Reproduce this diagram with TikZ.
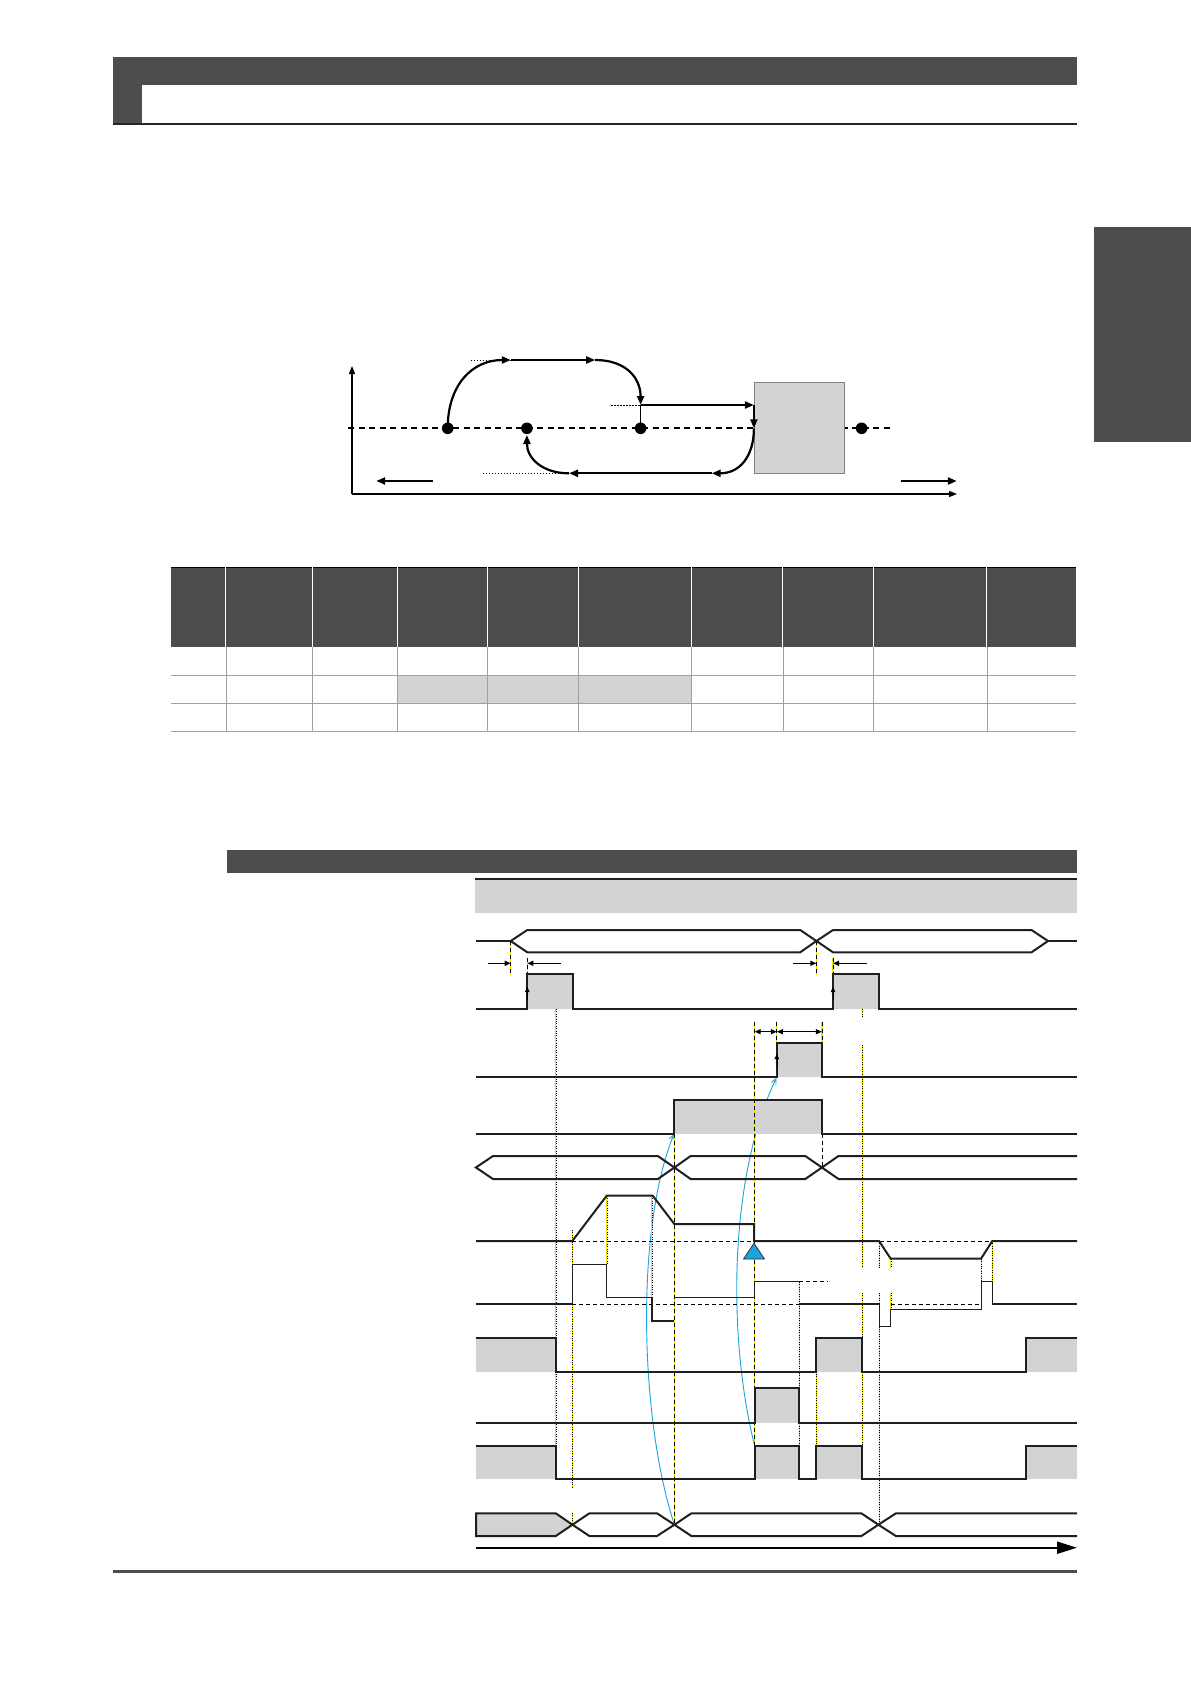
\documentclass[tikz,border=0pt]{standalone}
\usetikzlibrary{arrows.meta}
\definecolor{dk}{RGB}{78,76,77}
\definecolor{lg}{RGB}{211,211,211}
\definecolor{blu}{RGB}{27,163,221}
\definecolor{ylw}{RGB}{235,225,0}
\definecolor{tln}{RGB}{160,160,160}
\newcommand{\ydot}[3]{\draw[ylw,line width=0.9pt] (#1,#2)--(#1,#3);\draw[black,line width=0.35pt,dash pattern=on 0.8pt off 1.6pt] (#1,#2)--(#1,#3);}
\newcommand{\ydsh}[3]{\draw[ylw,line width=1.3pt] (#1,#2)--(#1,#3);\draw[black,line width=0.7pt,dash pattern=on 4pt off 3pt] (#1,#2)--(#1,#3);}
\begin{document}
\begin{tikzpicture}[x=1pt,y=-1pt,
  sig/.style={line width=2pt,draw=black!88,line join=miter},
  thinsig/.style={line width=0.9pt,draw=black!88},
  tri/.style={-{Triangle[length=9pt,width=7pt]}},
  dimtip/.style={-{Triangle[length=6pt,width=5pt]},line width=1.2pt},
  dimboth/.style={{Triangle[length=6pt,width=5pt]}-{Triangle[length=6pt,width=5pt]},line width=1.2pt},
  bluarr/.style={blu,line width=0.9pt,-{Straight Barb[length=5pt,width=5pt]}},
  fine/.style={line width=0.9pt,dash pattern=on 1.5pt off 1.5pt}]
\useasboundingbox (0,0) rectangle (1191,1684);
\fill[white] (0,0) rectangle (1191,1684);
% ---------- header ----------
\fill[dk] (113,57) rectangle (1077,85);
\fill[dk] (113,57) rectangle (142,124);
\draw[line width=1.5pt,black!85] (113,124)--(1077,124);
\fill[dk] (1094,227) rectangle (1191,442);
% ---------- top diagram ----------
\coordinate (o) at (352,494);
\coordinate (ytop) at (352,366);
\coordinate (xend) at (957,494);
\draw[line width=1.3pt,-{Triangle[length=8pt,width=6pt]}] (o)--(ytop);
\draw[line width=1.3pt,-{Triangle[length=8pt,width=6pt]}] (o)--(xend);
\draw[line width=1.8pt,dash pattern=on 6pt off 4.5pt] (348,428.3)--(890.5,428.3);
\node[draw=gray,line width=0.8pt,fill=lg,minimum width=90.4pt,minimum height=91pt,inner sep=0pt,anchor=north west] (box) at (753.9,382.3) {};
\coordinate (d1) at (447.7,428.3);
\coordinate (d2) at (526.9,428.3);
\coordinate (d3) at (640.6,428.3);
\coordinate (d4) at (861.6,428.3);
\foreach \d in {d1,d2,d3,d4} \fill (\d) circle (5.8pt);
\coordinate (t1) at (510.8,360);
\coordinate (t2) at (595.2,360);
\coordinate (m1) at (640.6,405);
\coordinate (m2) at (753.9,405);
\coordinate (m3) at (753.9,428.3);
\coordinate (b1) at (711.7,473.3);
\coordinate (b2) at (569,473.3);
\coordinate (b3) at (526.9,435);
\draw[line width=2.2pt,tri] (d1) .. controls (447.7,385) and (472,360) .. (t1);
\draw[line width=2.2pt,tri] (t1)--(t2);
\draw[line width=2.2pt,tri] (t2) .. controls (626,360) and (640.6,378) .. (m1);
\draw[fine] (470.6,360)--(t1);
\draw[line width=0.8pt] (m1)--(d3);
\draw[fine] (611.3,405)--(m1);
\draw[line width=2.2pt,tri] (m1)--(m2);
\draw[line width=2.2pt,tri] (m2)--(m3);
\draw[line width=2.2pt,tri] (m3) .. controls (753.9,456) and (740,473.3) .. (b1);
\draw[line width=2.2pt,tri] (b1)--(b2);
\draw[fine,line width=0.6pt] (482.7,473.3)--(b2);
\draw[line width=2.2pt,tri] (b2) .. controls (542,473.3) and (526.9,458) .. (b3);
\coordinate (la1) at (432.5,481); \coordinate (la2) at (376.2,481);
\coordinate (ra1) at (900.5,481); \coordinate (ra2) at (956.8,481);
\draw[line width=2.2pt,tri] (la1)--(la2);
\draw[line width=2.2pt,tri] (ra1)--(ra2);
% ---------- table ----------
\fill[dk] (170.7,567.3) rectangle (1076.3,646.7);
\draw[black,line width=1pt] (170.7,567.3)--(1076.3,567.3);
\fill[lg] (397.2,675.7) rectangle (691.4,703.3);
\foreach \x in {225.8,312.4,397.2,487.4,578.7,691.4,782.8,873.5,986.8}{
  \draw[white,line width=0.9pt] (\x,567.3)--(\x,646.7);
  \draw[tln,line width=0.6pt] (\x,646.7)--(\x,731.3);}
\foreach \y in {675.7,703.3,731.3} \draw[tln,line width=1.3pt] (170.7,\y)--(1076.3,\y);
% ---------- timing chart frame ----------
\fill[dk] (227.2,850) rectangle (1077.2,872.7);
\fill[lg] (475.2,879) rectangle (1077,912.7);
\draw[line width=2pt,black!88] (475.2,879)--(1077,879);
% blue curves (behind fills)
\draw[bluarr] (674.4,1524.7) .. controls (640,1420) and (635,1230) .. (674,1134);
\draw[bluarr] (754.7,1446) .. controls (728,1340) and (728,1180) .. (776.3,1078);
% fills
\fill[lg] (527.3,974.3) rectangle (573.2,1009);
\fill[lg] (833,974.3) rectangle (879.2,1009);
\fill[lg] (776.8,1042.7) rectangle (821.9,1076.7);
\fill[lg] (674.4,1100) rectangle (821.9,1133.7);
\fill[lg] (476,1337.7) rectangle (555.8,1371.7);
\fill[lg] (816.4,1337.7) rectangle (862.2,1371.7);
\fill[lg] (1026.3,1337.7) rectangle (1077,1371.7);
\fill[lg] (754.7,1388.3) rectangle (799.4,1422.7);
\fill[lg] (476,1446) rectangle (555.8,1479.3);
\fill[lg] (754.7,1446) rectangle (799.4,1479.3);
\fill[lg] (816.4,1446) rectangle (862.2,1479.3);
\fill[lg] (1026.3,1446) rectangle (1077,1479.3);
% guides
\ydsh{510.7}{941}{975}
\ydsh{527.3}{958}{975}
\ydsh{816.4}{941}{975}
\ydsh{833}{958}{975}
\ydsh{754.7}{1021.7}{1446}
\ydsh{776.8}{1021.7}{1042.7}
\ydsh{821.9}{1021.7}{1042.7}
\ydsh{674.4}{1133.7}{1524.7}
\draw[black,line width=0.8pt,dash pattern=on 4pt off 3pt] (821.9,1133.7)--(821.9,1167.5);
\ydot{555.8}{1009}{1479}
\ydot{572.3}{1230}{1488}
\ydot{572.3}{1513}{1525}
\ydot{606.7}{1195.7}{1264.3}
\ydot{651.7}{1195.7}{1297.7}
\ydot{799.4}{1281.7}{1479}
\ydot{816.4}{1337.7}{1479}
\ydot{862.2}{1009}{1017}
\ydot{862.2}{1045}{1268}
\ydot{862.2}{1293}{1480}
\ydot{879}{1241}{1268}
\ydot{879}{1293}{1523}
\ydot{890.7}{1258.7}{1268}
\ydot{890.7}{1293}{1309.3}
\ydot{981}{1258.7}{1281}
\ydot{992.3}{1241}{1304}
% signal 1 bus
\draw[sig] (475.9,941)--(510.7,941);
\draw[sig] (510.7,941)--(527.3,930)--(800.2,930)--(816.4,941)--(800.2,952.3)--(527.3,952.3)--cycle;
\draw[sig] (816.4,941)--(833,930)--(1031.5,930)--(1048,941)--(1031.5,952.3)--(833,952.3)--cycle;
\draw[sig] (1048,941)--(1077,941);
% dimension arrows
\draw[dimtip] (487.8,963.3)--(510.7,963.3);
\draw[dimtip] (561,963.3)--(527.3,963.3);
\draw[dimtip] (793.4,963.3)--(816.4,963.3);
\draw[dimtip] (866.6,963.3)--(833,963.3);
\draw[dimboth] (754.7,1031.7)--(776.8,1031.7);
\draw[dimboth] (776.8,1031.7)--(821.9,1031.7);
% signal 2
\draw[sig] (475.9,1009)--(527.3,1009)--(527.3,974.3)--(573.2,974.3)--(573.2,1009)--(833,1009)--(833,974.3)--(879.2,974.3)--(879.2,1009)--(1077,1009);
\draw[-{Triangle[length=5pt,width=4.5pt]},line width=0.5pt] (527.3,1000)--(527.3,987);
\draw[-{Triangle[length=5pt,width=4.5pt]},line width=0.5pt] (833,1000)--(833,987);
% signal 3
\draw[sig] (475.9,1076.7)--(776.8,1076.7)--(776.8,1042.7)--(821.9,1042.7)--(821.9,1076.7)--(1077,1076.7);
\draw[-{Triangle[length=5pt,width=4.5pt]},line width=0.5pt] (776.8,1067)--(776.8,1054);
% signal 4
\draw[sig] (475.9,1133.7)--(674.4,1133.7)--(674.4,1100)--(821.9,1100)--(821.9,1133.7)--(1077,1133.7);
% signal 5 bus
\draw[sig] (475.9,1167.5)--(493,1156)--(657.8,1156)--(674.4,1167.5)--(657.8,1179)--(493,1179)--cycle;
\draw[sig] (674.4,1167.5)--(690.6,1156)--(805.3,1156)--(821.9,1167.5)--(805.3,1179)--(690.6,1179)--cycle;
\draw[sig] (1077,1156)--(838.5,1156)--(821.9,1167.5)--(838.5,1179)--(1077,1179);
% signal 6
\draw[line width=0.8pt,dash pattern=on 4pt off 3pt] (572.3,1241)--(992.3,1241);
\draw[sig] (476,1241)--(572.3,1241)--(606.7,1195.7)--(652.7,1195.7)--(674.3,1224)--(754,1224)--(754,1241)--(879,1241)--(890.7,1258.7)--(981,1258.7)--(992.3,1241)--(1077,1241);
\draw[fill=blu,draw=black!80,line width=0.8pt] (754,1243.3)--(764.5,1259)--(743.5,1259)--cycle;
% signal 7
\draw[line width=0.8pt,dash pattern=on 4pt off 3pt] (572.3,1304)--(799.4,1304);
\draw[line width=0.8pt,dash pattern=on 4pt off 3pt] (890.7,1304)--(981,1304);
\draw[line width=0.8pt,dash pattern=on 4pt off 3pt] (799.4,1281.7)--(827.8,1281.7);
\draw[sig] (476,1304)--(572.3,1304);
\draw[thinsig] (572.3,1304)--(572.3,1264.3)--(606.7,1264.3)--(606.7,1297.7)--(651.7,1297.7);
\draw[sig] (651.7,1297.7)--(651.7,1320.7)--(674.3,1320.7);
\draw[thinsig] (674.3,1297.7)--(754,1297.7)--(754,1281.7)--(799.4,1281.7);
\draw[sig] (799.4,1304)--(879,1304);
\draw[thinsig] (879,1304)--(879,1326)--(890.7,1326)--(890.7,1309.3)--(981,1309.3)--(981,1281)--(992.3,1281)--(992.3,1304);
\draw[sig] (992.3,1304)--(1077,1304);
% signal 8
\draw[sig] (476,1337.7)--(555.8,1337.7)--(555.8,1371.7)--(816.4,1371.7)--(816.4,1337.7)--(862.2,1337.7)--(862.2,1371.7)--(1026.3,1371.7)--(1026.3,1337.7)--(1077,1337.7);
% signal 9
\draw[sig] (476,1422.7)--(754.7,1422.7)--(754.7,1388.3)--(799.4,1388.3)--(799.4,1422.7)--(1077,1422.7);
% signal 10
\draw[sig] (476,1446)--(555.8,1446)--(555.8,1479.3)--(754.7,1479.3)--(754.7,1446)--(799.4,1446)--(799.4,1479.3)--(816.4,1479.3)--(816.4,1446)--(862.2,1446)--(862.2,1479.3)--(1026.3,1479.3)--(1026.3,1446)--(1077,1446);
% signal 11 bus
\draw[sig,fill=lg] (476,1513.3)--(555.8,1513.3)--(572.4,1524.7)--(555.8,1536)--(476,1536)--cycle;
\draw[sig] (572.4,1524.7)--(589.4,1513.3)--(657,1513.3)--(674.4,1524.7)--(657,1536)--(589.4,1536)--cycle;
\draw[sig] (674.4,1524.7)--(691.4,1513.3)--(861.4,1513.3)--(878.4,1524.7)--(861.4,1536)--(691.4,1536)--cycle;
\draw[sig] (1077,1513.3)--(895.9,1513.3)--(878.4,1524.7)--(895.9,1536)--(1077,1536);
% time axis
\coordinate (ta) at (476,1547.7); \coordinate (tb) at (1077,1547.7);
\draw[line width=2pt,-{Triangle[length=20pt,width=12pt]}] (ta)--(tb);
% footer
\draw[line width=2.7pt,dk] (113,1571.3)--(1077,1571.3);
\end{tikzpicture}
\end{document}
